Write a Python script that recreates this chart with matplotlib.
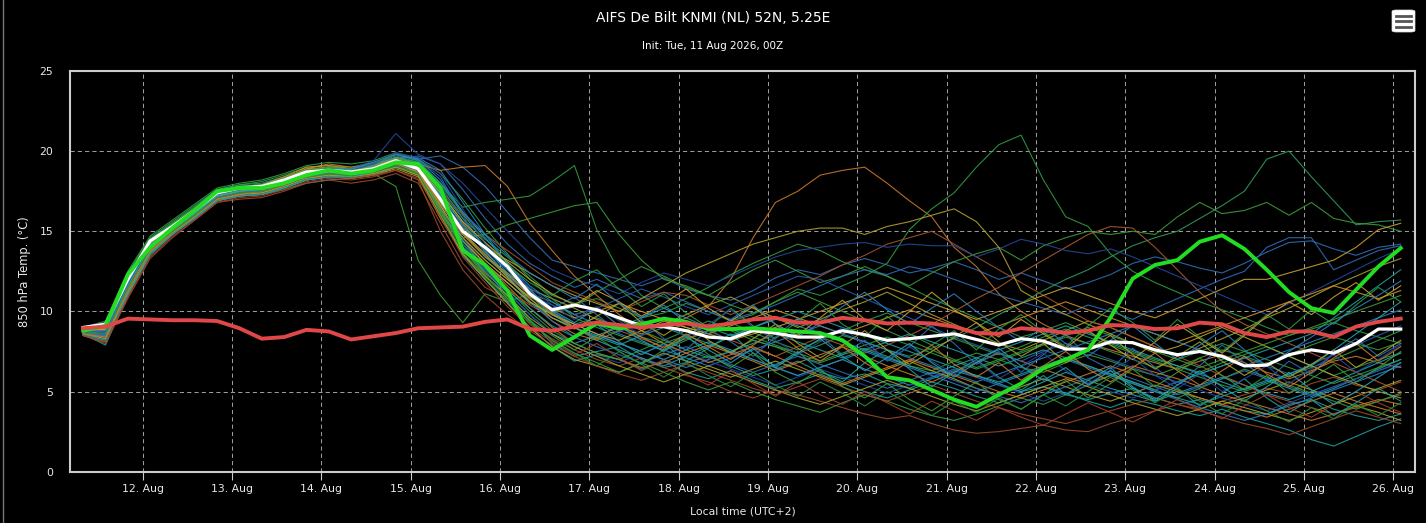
# AIFS ensemble plume, 850 hPa temperature, De Bilt

import matplotlib
matplotlib.use("Agg")
import matplotlib.pyplot as plt
import matplotlib.dates as mdates
from matplotlib.patches import FancyBboxPatch
from matplotlib.lines import Line2D
import pandas as pd

# 6-hourly steps, local time (UTC+2)
times = pd.date_range("2026-08-11 08:00", periods=60, freq="6h")

# ensemble mean (white)
mean_temp = [9.0, 9.2, 12.0, 14.4, 15.3, 16.3, 17.4, 17.7, 17.8, 18.2, 18.7, 18.8, 18.7, 18.9, 19.4, 18.9, 17.0, 15.0, 14.0, 12.8,
             11.1, 10.1, 10.4, 10.1, 9.6, 9.1, 9.05, 8.8, 8.4, 8.3, 8.8, 8.65, 8.4, 8.4, 8.8, 8.55, 8.2, 8.3, 8.45, 8.6,
             8.25, 7.9, 8.3, 8.15, 7.65, 7.65, 8.1, 8.05, 7.6, 7.3, 7.5, 7.2, 6.6, 6.65, 7.3, 7.6, 7.4, 8.0, 8.9, 8.9]

# control run (bright green)
control_temp = [8.8, 9.1, 12.3, 14.0, 15.2, 16.3, 17.5, 17.7, 17.7, 18.0, 18.5, 18.8, 18.6, 18.8, 19.3, 19.2, 17.7, 13.8, 12.9, 11.3,
                8.5, 7.6, 8.4, 9.25, 8.95, 9.2, 9.55, 9.35, 8.9, 8.9, 8.95, 8.85, 8.75, 8.65, 8.2, 7.2, 5.9, 5.7, 5.1, 4.5,
                4.05, 4.8, 5.5, 6.45, 7.0, 7.6, 9.6, 12.05, 12.9, 13.2, 14.35, 14.75, 13.9, 12.6, 11.2, 10.2, 9.9, 11.35, 12.8, 13.95]

# climate (red)
climate_temp = [8.95, 9.05, 9.55, 9.5, 9.45, 9.45, 9.4, 8.95, 8.3, 8.4, 8.85, 8.75, 8.25, 8.45, 8.65, 8.95, 9.0, 9.05, 9.35, 9.5,
                8.9, 8.8, 9.05, 9.3, 9.15, 9.0, 9.15, 9.25, 9.05, 9.25, 9.5, 9.6, 9.3, 9.3, 9.6, 9.45, 9.25, 9.3, 9.25, 9.05,
                8.65, 8.6, 8.95, 8.85, 8.65, 8.8, 9.15, 9.1, 8.9, 8.95, 9.3, 9.2, 8.65, 8.4, 8.75, 8.75, 8.4, 9.05, 9.35, 9.55]

# ensemble members
m01 = [8.7, 8.4, 11.2, 13.8, 15.0, 16.1, 17.2, 17.4, 17.5, 17.9, 18.5, 18.6, 18.4, 18.7, 19.3, 19.5, 19.7, 19.0, 17.8, 16.2,
       14.6, 13.2, 12.8, 12.4, 12.0, 11.6, 12.1, 11.4, 11.0, 10.7, 11.3, 12.1, 12.6, 12.3, 12.9, 13.3, 12.9, 12.4, 12.7, 13.1,
       12.6, 12.0, 12.4, 11.9, 11.4, 11.8, 12.3, 13.0, 13.4, 13.1, 12.7, 12.4, 13.0, 13.7, 14.3, 14.4, 13.9, 13.5, 14.0, 14.2]
m02 = [8.6, 7.9, 11.0, 13.5, 14.8, 15.9, 17.0, 17.2, 17.3, 17.6, 18.0, 18.2, 18.3, 18.5, 19.0, 18.7, 16.2, 14.0, 12.5, 11.0,
       9.5, 8.0, 7.2, 7.5, 7.8, 7.0, 6.5, 6.8, 7.2, 6.6, 6.0, 6.4, 6.9, 6.2, 5.8, 6.1, 5.5, 5.2, 5.8, 6.3,
       5.9, 5.4, 5.0, 5.3, 4.8, 4.5, 4.9, 5.2, 4.6, 4.2, 4.5, 4.1, 3.8, 3.6, 4.2, 4.5, 3.9, 3.5, 3.2, 3.6]
m03 = [9.0, 9.3, 12.4, 14.6, 15.6, 16.6, 17.6, 17.9, 18.1, 18.5, 19.0, 19.1, 19.0, 19.3, 19.8, 19.4, 18.0, 16.5, 16.8, 17.0,
       17.2, 18.1, 19.1, 15.1, 12.5, 11.0, 10.2, 10.8, 11.5, 12.3, 13.0, 13.6, 14.2, 13.8, 13.1, 12.6, 12.2, 11.5, 10.8, 10.2,
       9.6, 9.0, 8.4, 8.8, 9.3, 8.7, 8.0, 7.5, 7.0, 6.6, 6.2, 6.8, 7.3, 7.8, 7.2, 6.6, 6.0, 6.5, 7.0, 7.4]
m04 = [8.9, 9.1, 12.0, 14.2, 15.2, 16.3, 17.3, 17.6, 17.8, 18.0, 18.4, 18.5, 18.6, 18.6, 17.8, 13.2, 11.0, 9.3, 11.1, 10.6,
       11.1, 10.6, 9.8, 10.2, 9.5, 8.8, 8.2, 7.6, 7.1, 7.5, 8.2, 7.8, 7.2, 6.8, 7.3, 7.7, 7.2, 6.6, 6.3, 6.9,
       7.4, 7.0, 6.5, 6.2, 6.8, 7.3, 6.9, 6.4, 6.0, 6.5, 7.1, 7.6, 7.2, 6.7, 7.3, 7.9, 8.4, 8.0, 7.6, 8.1]
m05 = [8.8, 9.0, 11.8, 14.0, 15.1, 16.0, 17.1, 17.5, 17.9, 18.3, 18.9, 19.2, 19.0, 19.2, 19.6, 19.0, 17.2, 15.5, 13.8, 12.2,
       10.6, 9.4, 8.6, 8.2, 8.8, 9.4, 9.0, 9.6, 10.3, 12.0, 14.6, 16.8, 17.5, 18.5, 18.8, 19.0, 18.0, 16.9, 15.9, 14.0,
       12.8, 11.1, 10.0, 9.2, 8.5, 8.0, 7.6, 7.2, 6.8, 6.4, 6.9, 7.3, 6.8, 6.2, 5.8, 6.3, 6.9, 7.2, 6.8, 6.5]
m06 = [8.7, 8.9, 11.9, 14.3, 15.4, 16.4, 17.5, 17.8, 17.9, 18.3, 18.8, 19.0, 18.9, 19.1, 19.6, 19.1, 17.5, 15.8, 14.5, 13.4,
       12.2, 11.0, 10.5, 10.8, 10.2, 9.6, 9.9, 10.5, 10.0, 9.4, 9.8, 10.6, 11.4, 11.0, 11.6, 12.2, 13.0, 15.1, 16.4, 17.4,
       19.0, 20.4, 21.0, 18.2, 15.9, 15.3, 13.6, 12.5, 11.8, 11.2, 10.6, 10.1, 9.6, 9.0, 8.5, 8.9, 9.3, 8.8, 8.4, 8.0]
m07 = [8.9, 9.2, 12.2, 14.5, 15.5, 16.5, 17.6, 17.9, 18.0, 18.4, 18.8, 18.9, 18.8, 19.0, 19.5, 19.0, 16.8, 14.6, 13.2, 12.0,
       10.8, 9.8, 9.2, 9.6, 9.0, 8.4, 8.0, 8.5, 9.2, 8.8, 8.2, 7.8, 7.4, 7.9, 8.5, 8.1, 7.6, 7.2, 7.7, 8.3,
       9.0, 9.8, 10.5, 11.3, 12.0, 12.6, 13.4, 14.1, 14.6, 15.0, 15.8, 16.6, 17.5, 19.5, 20.0, 18.4, 16.9, 15.4, 15.6, 15.7]
m08 = [8.8, 8.8, 11.6, 14.1, 15.2, 16.2, 17.3, 17.6, 17.7, 18.1, 18.6, 18.7, 18.6, 18.9, 19.3, 18.8, 16.5, 14.2, 12.8, 11.8,
       10.5, 9.9, 10.3, 11.2, 12.0, 12.8, 12.2, 11.5, 11.0, 11.8, 12.6, 13.2, 12.5, 11.8, 12.2, 12.8, 12.2, 11.6, 12.4, 13.1,
       13.6, 14.0, 13.2, 14.1, 14.6, 15.0, 14.8, 15.0, 14.8, 15.9, 16.8, 16.1, 16.3, 16.8, 16.0, 16.8, 15.8, 15.5, 15.4, 15.0]
m09 = [8.6, 8.3, 11.4, 13.9, 15.0, 16.0, 17.0, 17.3, 17.4, 17.7, 18.2, 18.4, 18.5, 18.9, 19.5, 19.7, 19.2, 17.6, 15.8, 14.2,
       13.0, 12.2, 11.5, 12.0, 11.4, 10.8, 11.2, 10.6, 10.0, 9.5, 9.9, 10.4, 11.0, 11.6, 12.2, 12.6, 12.3, 12.8, 12.5, 12.0,
       11.5, 11.0, 10.6, 10.2, 9.8, 10.4, 10.0, 9.5, 10.2, 10.8, 11.4, 12.0, 12.5, 14.0, 14.6, 14.6, 12.6, 13.2, 13.8, 14.1]
m10 = [8.5, 8.0, 10.8, 13.3, 14.6, 15.7, 16.8, 17.0, 17.1, 17.5, 18.0, 18.2, 18.0, 18.2, 18.6, 18.0, 15.5, 13.0, 11.5, 10.8,
       9.2, 8.3, 7.6, 7.0, 6.6, 7.1, 6.5, 6.0, 5.6, 5.0, 4.6, 5.1, 4.8, 4.4, 4.0, 3.6, 3.3, 3.5, 3.0, 2.6,
       2.4, 2.5, 2.7, 2.9, 2.6, 2.5, 3.0, 3.4, 3.8, 4.2, 3.9, 4.4, 4.8, 5.2, 4.9, 5.5, 5.9, 5.4, 5.1, 5.6]
m11 = [8.7, 8.6, 11.7, 14.0, 15.2, 16.1, 17.2, 17.5, 17.6, 18.0, 18.5, 18.5, 18.4, 18.6, 19.0, 18.6, 16.0, 13.5, 12.0, 10.6,
       9.0, 7.8, 6.9, 7.3, 7.0, 6.4, 6.9, 6.2, 5.8, 6.3, 5.7, 5.2, 5.6, 6.1, 5.5, 5.0, 4.6, 5.1, 5.6, 5.2,
       4.7, 4.3, 4.8, 5.3, 4.9, 4.4, 4.0, 4.5, 4.2, 3.8, 3.5, 3.9, 3.4, 3.0, 2.6, 2.0, 1.6, 2.2, 2.8, 3.3]
m12 = [8.9, 9.1, 12.1, 14.4, 15.4, 16.4, 17.4, 17.6, 17.8, 18.3, 18.9, 19.0, 18.8, 19.0, 19.4, 18.8, 16.8, 14.8, 13.4, 12.4,
       11.4, 10.8, 10.2, 9.5, 9.0, 8.6, 9.2, 9.8, 10.4, 10.9, 10.2, 9.6, 9.0, 9.5, 10.1, 10.6, 11.2, 10.5, 9.8, 9.2,
       8.6, 8.0, 7.6, 8.2, 8.8, 9.4, 9.0, 8.4, 7.8, 7.2, 7.7, 8.3, 8.9, 9.6, 10.2, 10.9, 11.6, 12.2, 12.8, 13.3]
m13 = [8.8, 8.7, 11.6, 14.0, 15.0, 16.1, 17.1, 17.4, 17.6, 18.0, 18.6, 18.8, 18.7, 18.9, 19.3, 18.6, 16.2, 14.4, 13.0, 11.6,
       10.2, 9.0, 8.0, 7.4, 7.0, 6.5, 6.8, 7.4, 7.9, 7.4, 6.9, 6.3, 6.8, 7.3, 7.8, 7.2, 6.6, 6.1, 5.6, 6.2,
       6.8, 7.4, 6.9, 6.4, 5.9, 5.5, 6.0, 6.6, 6.2, 5.8, 5.3, 4.8, 4.4, 4.0, 3.6, 3.2, 3.6, 4.1, 4.5, 4.2]
m14 = [8.6, 8.4, 11.3, 13.8, 15.0, 16.0, 17.1, 17.4, 17.5, 17.9, 18.4, 18.6, 18.7, 19.2, 19.8, 19.5, 18.4, 16.0, 13.8, 12.2,
       11.0, 10.4, 9.8, 10.2, 10.8, 11.4, 10.9, 10.3, 9.8, 10.4, 11.0, 11.6, 12.2, 12.0, 11.4, 10.8, 10.2, 9.6, 9.0, 8.4,
       7.9, 7.4, 6.9, 7.5, 8.0, 7.5, 7.0, 6.5, 6.0, 5.6, 6.1, 6.6, 7.1, 6.6, 6.1, 6.7, 7.3, 7.9, 8.5, 9.1]
m15 = [8.8, 8.9, 11.9, 14.2, 15.3, 16.3, 17.4, 17.7, 17.8, 18.2, 18.7, 18.9, 18.8, 19.0, 19.4, 18.9, 16.6, 14.2, 12.4, 11.2,
       9.8, 8.6, 8.0, 8.5, 8.0, 7.5, 7.0, 7.6, 8.1, 7.6, 7.0, 6.5, 6.0, 6.5, 7.0, 6.4, 5.9, 5.4, 5.9, 6.4,
       6.0, 5.5, 5.0, 5.6, 6.2, 5.7, 5.2, 4.8, 4.4, 4.9, 5.4, 5.9, 5.4, 4.9, 4.5, 5.0, 5.6, 6.2, 6.8, 7.4]
m16 = [9.0, 9.4, 12.5, 14.7, 15.7, 16.7, 17.7, 18.0, 18.2, 18.6, 19.1, 19.3, 19.2, 19.4, 19.9, 19.5, 18.6, 17.0, 15.2, 13.6,
       12.0, 10.8, 9.6, 9.0, 8.5, 8.0, 7.6, 8.2, 8.8, 9.3, 8.7, 8.1, 7.6, 8.2, 8.8, 9.4, 9.9, 9.3, 8.8, 8.3,
       7.8, 7.3, 7.8, 8.4, 8.9, 8.4, 7.9, 7.4, 6.9, 6.4, 5.9, 5.4, 5.0, 5.5, 6.0, 6.5, 7.0, 7.6, 8.2, 8.8]
m17 = [8.5, 8.1, 11.0, 13.6, 14.9, 15.9, 16.9, 17.2, 17.3, 17.7, 18.2, 18.4, 18.3, 18.5, 18.9, 18.4, 15.8, 13.6, 12.0, 10.5,
       9.0, 7.8, 7.0, 6.6, 6.2, 6.8, 7.4, 6.9, 6.4, 5.9, 6.4, 6.9, 6.4, 5.9, 5.4, 5.9, 6.4, 6.9, 6.3, 5.8,
       5.2, 4.8, 5.3, 5.8, 5.3, 4.8, 4.4, 4.9, 5.4, 5.0, 4.6, 4.2, 4.6, 5.1, 5.6, 5.1, 4.6, 4.1, 3.7, 3.2]
m18 = [8.7, 8.8, 11.8, 14.1, 15.2, 16.2, 17.3, 17.6, 17.8, 18.2, 18.8, 19.0, 18.9, 19.0, 19.4, 19.0, 17.6, 16.0, 14.8, 13.8,
       12.8, 11.8, 11.2, 10.6, 10.0, 10.6, 11.2, 11.0, 10.4, 9.8, 10.4, 11.0, 11.6, 12.2, 12.9, 13.5, 14.2, 14.6, 15.0, 14.2,
       13.4, 12.6, 11.8, 11.0, 10.2, 9.4, 9.0, 8.4, 7.8, 7.2, 6.6, 6.0, 5.4, 4.8, 4.4, 4.0, 3.6, 4.0, 4.4, 4.8]
m19 = [8.6, 8.5, 11.4, 13.9, 15.0, 16.0, 17.0, 17.3, 17.4, 17.8, 18.3, 18.5, 18.4, 18.6, 19.1, 18.5, 16.0, 13.8, 12.4, 11.4,
       10.4, 9.6, 9.0, 9.4, 8.8, 8.3, 7.8, 8.3, 8.8, 8.2, 7.7, 7.2, 7.8, 8.4, 7.9, 7.4, 7.9, 8.5, 9.2, 10.0,
       10.8, 11.5, 12.4, 13.2, 14.0, 14.8, 15.3, 15.2, 14.0, 12.6, 11.2, 10.0, 9.2, 8.6, 8.0, 7.4, 6.8, 6.2, 5.6, 5.0]
m20 = [8.7, 8.6, 11.5, 13.9, 15.1, 16.1, 17.2, 17.5, 17.6, 18.0, 18.6, 18.8, 18.9, 19.4, 21.1, 19.8, 19.2, 18.0, 16.5, 15.0,
       13.6, 12.6, 12.0, 11.6, 11.1, 11.8, 12.4, 12.0, 11.6, 12.2, 12.8, 13.4, 13.8, 14.0, 14.2, 14.3, 14.0, 14.2, 14.1, 14.1,
       13.4, 13.9, 14.5, 14.2, 13.8, 13.6, 13.9, 13.4, 12.8, 12.2, 11.6, 11.0, 10.4, 9.8, 10.5, 11.2, 11.9, 12.6, 13.3, 13.9]
m21 = [8.8, 8.9, 11.8, 14.1, 15.2, 16.2, 17.2, 17.5, 17.7, 18.1, 18.6, 18.7, 18.6, 18.8, 19.2, 18.7, 16.3, 13.9, 12.2, 10.9,
       9.4, 8.2, 7.4, 6.8, 6.2, 6.8, 6.2, 5.6, 5.1, 5.6, 5.0, 4.5, 4.1, 3.7, 4.3, 4.8, 4.4, 3.9, 3.5, 3.2,
       3.6, 4.1, 4.6, 4.2, 4.8, 5.4, 6.0, 5.5, 5.0, 4.6, 5.2, 5.8, 6.4, 5.9, 5.4, 4.9, 4.4, 3.9, 4.4, 4.9]
m22 = [8.9, 9.2, 12.2, 14.4, 15.4, 16.4, 17.5, 17.8, 17.9, 18.3, 18.8, 18.9, 18.8, 19.0, 19.5, 19.1, 17.2, 15.0, 13.4, 12.2,
       10.6, 9.6, 9.0, 8.4, 7.9, 8.5, 9.0, 8.5, 8.0, 7.5, 8.0, 8.6, 8.1, 7.6, 7.1, 7.6, 8.1, 8.6, 8.1, 7.6,
       7.1, 6.6, 7.1, 7.6, 7.1, 6.6, 6.1, 5.6, 5.1, 4.6, 4.2, 4.7, 5.2, 5.7, 5.2, 4.7, 5.2, 5.8, 6.4, 7.0]
m23 = [8.6, 8.3, 11.2, 13.7, 14.9, 15.9, 17.0, 17.3, 17.4, 17.8, 18.3, 18.5, 18.5, 18.8, 19.3, 18.9, 17.0, 14.6, 12.9, 11.8,
       10.6, 9.4, 8.4, 7.8, 7.3, 6.8, 7.3, 7.8, 7.2, 6.7, 6.2, 6.7, 7.2, 6.7, 6.2, 5.7, 5.2, 5.7, 6.2, 5.7,
       5.2, 4.7, 4.3, 4.8, 5.3, 5.8, 6.3, 5.8, 5.3, 4.8, 5.3, 5.8, 6.3, 5.8, 5.3, 4.8, 5.3, 5.8, 6.3, 6.8]
m24 = [8.8, 9.0, 12.0, 14.3, 15.3, 16.2, 17.3, 17.6, 17.9, 18.4, 19.0, 19.1, 18.9, 19.0, 19.3, 18.7, 16.4, 14.6, 13.2, 12.0,
       10.9, 10.2, 9.6, 10.0, 10.5, 10.0, 9.5, 9.0, 8.6, 9.1, 9.6, 10.1, 9.6, 9.1, 8.6, 9.1, 9.6, 10.1, 9.6, 9.1,
       8.6, 9.1, 9.6, 10.1, 10.6, 10.1, 9.6, 9.1, 8.6, 8.1, 8.6, 9.1, 9.6, 10.1, 10.6, 11.1, 11.6, 11.2, 10.8, 11.3]
m25 = [8.7, 8.7, 11.6, 14.0, 15.1, 16.1, 17.2, 17.5, 17.6, 18.0, 18.5, 18.6, 18.5, 18.7, 19.1, 18.6, 16.2, 14.0, 12.6, 11.4,
       10.0, 8.8, 8.0, 7.4, 7.0, 7.6, 8.2, 8.8, 9.4, 8.9, 8.4, 7.9, 7.4, 6.9, 7.4, 7.9, 8.4, 7.9, 7.4, 6.9,
       6.4, 6.9, 7.4, 7.9, 8.4, 8.0, 7.5, 7.0, 6.5, 7.0, 7.5, 8.0, 7.5, 7.0, 6.5, 6.0, 5.5, 6.0, 6.5, 7.0]
m26 = [8.5, 8.2, 11.1, 13.6, 14.8, 15.8, 16.9, 17.2, 17.3, 17.7, 18.2, 18.4, 18.6, 19.0, 19.6, 19.6, 18.8, 16.8, 14.8, 13.0,
       11.6, 10.6, 9.8, 9.2, 8.6, 8.1, 7.6, 7.1, 6.6, 7.1, 7.6, 8.1, 8.6, 9.1, 8.6, 8.1, 7.6, 7.1, 6.6, 6.1,
       5.6, 6.1, 6.6, 7.1, 7.6, 8.1, 8.6, 9.1, 8.6, 8.1, 7.6, 7.1, 6.6, 7.1, 7.6, 8.1, 8.6, 9.1, 9.6, 10.1]
m27 = [8.9, 9.1, 12.1, 14.4, 15.4, 16.4, 17.5, 17.8, 17.9, 18.3, 18.8, 19.0, 18.9, 19.1, 19.5, 19.0, 17.0, 15.2, 14.0, 13.2,
       12.4, 11.6, 11.0, 10.5, 10.0, 10.8, 11.6, 12.4, 13.0, 13.6, 14.2, 14.6, 15.0, 15.2, 15.2, 14.8, 15.3, 15.6, 16.0, 16.4,
       15.6, 14.0, 11.3, 10.5, 9.8, 9.2, 8.6, 8.0, 7.4, 7.8, 8.4, 9.0, 8.4, 7.8, 7.2, 6.6, 6.0, 5.5, 5.0, 4.6]
m28 = [8.7, 8.5, 11.5, 13.9, 15.0, 16.0, 17.1, 17.4, 17.5, 17.9, 18.4, 18.6, 18.6, 18.9, 19.3, 18.9, 17.4, 15.6, 14.0, 12.4,
       11.0, 9.8, 9.0, 8.5, 9.0, 9.6, 10.2, 9.6, 9.0, 8.5, 9.0, 9.5, 10.0, 9.5, 9.0, 8.5, 8.0, 7.5, 7.0, 6.5,
       6.0, 5.6, 6.1, 6.6, 7.1, 6.6, 6.1, 5.6, 5.1, 5.6, 6.1, 6.6, 7.1, 7.6, 8.1, 8.6, 9.6, 10.6, 11.6, 12.6]
m29 = [8.6, 8.4, 11.3, 13.8, 14.9, 15.9, 17.0, 17.3, 17.4, 17.8, 18.3, 18.4, 18.3, 18.5, 18.8, 18.2, 15.0, 12.6, 11.0, 9.8,
       8.8, 7.9, 7.2, 6.6, 6.1, 5.7, 6.2, 6.7, 6.2, 5.7, 5.2, 4.8, 5.3, 5.8, 5.3, 4.8, 4.4, 4.9, 5.4, 4.9,
       4.4, 4.0, 3.6, 3.3, 3.0, 3.4, 3.8, 4.2, 4.6, 4.2, 3.8, 3.4, 3.0, 2.7, 2.3, 2.8, 3.3, 3.8, 3.4, 3.0]
m30 = [8.8, 8.8, 11.8, 14.1, 15.2, 16.2, 17.3, 17.6, 17.7, 18.1, 18.6, 18.8, 18.7, 18.9, 19.4, 18.9, 16.6, 14.2, 12.6, 11.2,
       9.8, 8.6, 7.8, 7.2, 6.8, 7.4, 7.9, 7.4, 6.9, 6.4, 5.9, 5.4, 5.9, 6.4, 5.9, 5.4, 4.9, 5.4, 5.9, 6.4,
       5.9, 5.4, 4.9, 4.4, 4.9, 5.4, 5.0, 4.6, 5.1, 5.6, 5.1, 4.6, 4.2, 3.8, 4.3, 4.8, 5.3, 5.8, 6.3, 6.8]
m31 = [8.9, 9.0, 11.9, 14.2, 15.3, 16.3, 17.3, 17.6, 17.7, 18.1, 18.6, 18.7, 18.6, 18.8, 19.1, 18.5, 16.0, 14.6, 14.8, 15.4,
       15.8, 16.2, 16.6, 16.8, 14.8, 13.2, 12.0, 11.6, 11.0, 10.4, 9.9, 10.6, 11.2, 10.6, 10.0, 9.4, 8.8, 8.2, 7.6, 7.0,
       6.5, 7.0, 7.5, 8.0, 8.5, 9.0, 8.5, 8.0, 7.5, 7.0, 6.5, 7.0, 7.5, 8.0, 8.5, 9.0, 9.5, 10.0, 10.5, 11.0]
m32 = [8.8, 8.9, 11.9, 14.2, 15.2, 16.2, 17.3, 17.6, 17.8, 18.2, 18.7, 18.9, 18.8, 19.1, 19.6, 19.2, 18.8, 19.0, 19.1, 17.8,
       15.5, 13.8, 12.2, 11.0, 9.8, 8.8, 8.0, 7.4, 6.8, 7.3, 7.8, 7.2, 6.6, 6.0, 5.5, 6.0, 6.5, 7.0, 6.5, 6.0,
       5.5, 5.0, 4.6, 5.1, 5.6, 6.1, 6.6, 6.1, 5.6, 5.1, 4.6, 4.2, 3.8, 3.4, 3.9, 4.4, 4.9, 4.4, 4.0, 3.6]
m33 = [8.7, 8.7, 11.7, 14.1, 15.2, 16.2, 17.3, 17.6, 17.7, 18.1, 18.6, 18.8, 18.8, 19.1, 19.6, 19.3, 18.0, 16.2, 14.6, 13.0,
       11.4, 10.0, 9.0, 8.2, 7.6, 7.1, 6.6, 7.2, 7.8, 8.4, 9.0, 9.6, 9.1, 8.6, 8.1, 7.6, 7.1, 6.6, 6.1, 6.6,
       7.1, 7.6, 8.1, 8.6, 9.1, 8.6, 8.1, 7.6, 7.1, 6.6, 6.1, 5.6, 5.1, 5.6, 6.1, 6.6, 7.6, 8.6, 9.6, 10.6]
m34 = [8.6, 8.3, 11.2, 13.7, 14.9, 15.9, 17.0, 17.3, 17.4, 17.8, 18.3, 18.5, 18.4, 18.6, 19.0, 18.5, 16.0, 13.6, 12.2, 11.0,
       9.6, 8.6, 7.8, 7.2, 6.6, 6.1, 5.6, 6.1, 6.6, 6.1, 5.6, 5.1, 4.6, 4.2, 4.7, 5.2, 5.7, 5.2, 4.7, 4.2,
       3.8, 4.3, 4.8, 5.3, 5.8, 5.3, 4.8, 4.3, 3.9, 3.5, 3.9, 4.4, 4.0, 3.6, 3.2, 3.7, 4.2, 4.7, 5.2, 5.7]
m35 = [8.9, 9.0, 12.0, 14.3, 15.3, 16.3, 17.4, 17.7, 17.8, 18.2, 18.7, 18.9, 18.9, 19.2, 19.8, 19.4, 17.8, 15.8, 14.0, 12.6,
       11.2, 10.0, 9.2, 8.6, 8.0, 7.5, 7.0, 6.5, 7.0, 7.5, 7.0, 6.5, 6.0, 6.5, 7.0, 7.5, 7.0, 6.5, 6.0, 5.5,
       5.0, 5.5, 6.0, 6.5, 7.0, 6.5, 6.0, 5.5, 5.0, 4.5, 4.0, 3.6, 3.2, 3.6, 4.1, 4.6, 5.1, 5.6, 6.1, 6.6]
m36 = [8.8, 8.9, 11.9, 14.2, 15.2, 16.2, 17.2, 17.5, 17.6, 18.0, 18.6, 18.8, 18.7, 18.9, 19.3, 18.8, 16.6, 14.4, 13.0, 11.8,
       10.6, 9.8, 9.2, 8.6, 8.2, 8.8, 9.4, 9.0, 8.6, 8.2, 8.6, 9.0, 9.5, 10.0, 10.5, 11.0, 11.5, 11.0, 10.5, 10.0,
       9.5, 10.0, 10.5, 11.0, 11.5, 11.0, 10.5, 10.0, 9.6, 10.2, 10.8, 11.4, 12.0, 12.0, 12.4, 12.8, 13.2, 14.0, 15.1, 15.5]
m37 = [8.7, 8.5, 11.6, 14.0, 15.1, 16.1, 17.1, 17.4, 17.6, 18.0, 18.5, 18.7, 18.6, 18.8, 19.2, 18.8, 17.1, 15.3, 13.9, 12.6,
       11.3, 10.2, 10.9, 9.8, 8.7, 9.5, 8.3, 7.6, 8.9, 8.1, 7.2, 8.4, 9.6, 8.5, 7.3, 8.2, 6.9, 7.8, 9.1, 8.0,
       6.7, 7.5, 6.2, 7.3, 8.6, 7.1, 6.4, 7.7, 6.5, 5.4, 6.6, 7.9, 6.8, 5.7, 6.9, 6.1, 7.4, 8.3, 7.2, 8.0]
m38 = [8.9, 9.2, 12.3, 14.5, 15.5, 16.5, 17.5, 17.8, 17.9, 18.3, 18.8, 19.0, 18.9, 19.2, 19.7, 19.3, 17.9, 16.1, 14.3, 12.9,
       11.8, 11.0, 11.9, 12.6, 11.4, 10.3, 11.1, 9.9, 9.0, 10.2, 9.1, 8.3, 9.4, 10.5, 9.2, 8.4, 9.7, 8.6, 7.9, 8.8,
       7.6, 8.9, 9.8, 8.7, 7.8, 9.1, 10.2, 9.3, 8.2, 9.5, 8.4, 7.5, 8.6, 9.8, 8.9, 10.1, 9.2, 10.4, 11.5, 10.6]
m39 = [8.6, 8.2, 11.1, 13.6, 14.8, 15.8, 16.9, 17.2, 17.3, 17.7, 18.2, 18.4, 18.4, 18.7, 19.2, 18.8, 16.9, 14.4, 12.7, 11.3,
       10.2, 9.1, 8.4, 9.2, 8.1, 7.3, 8.0, 6.9, 7.7, 8.6, 7.4, 6.6, 7.5, 6.3, 5.6, 6.8, 7.6, 6.4, 5.3, 6.2,
       7.0, 5.9, 5.1, 6.0, 4.8, 5.7, 6.5, 5.3, 4.4, 5.2, 4.1, 4.9, 5.8, 4.6, 3.7, 4.5, 3.5, 4.3, 5.2, 4.4]
m40 = [8.8, 8.9, 11.9, 14.2, 15.3, 16.3, 17.3, 17.6, 17.8, 18.2, 18.7, 18.9, 18.8, 19.0, 19.5, 19.0, 17.4, 15.6, 14.3, 13.1,
       12.0, 11.1, 10.4, 11.3, 10.6, 9.7, 10.5, 11.4, 10.2, 9.4, 10.3, 9.2, 8.5, 9.6, 10.7, 9.5, 8.8, 10.0, 11.2, 10.1,
       9.3, 8.4, 9.5, 8.6, 7.7, 8.8, 7.9, 7.0, 8.1, 9.2, 8.3, 7.4, 8.5, 9.7, 10.6, 9.8, 10.9, 11.8, 10.7, 11.6]
m41 = [8.5, 8.1, 10.9, 13.4, 14.7, 15.7, 16.8, 17.1, 17.2, 17.6, 18.1, 18.3, 18.2, 18.4, 18.8, 18.3, 15.9, 13.4, 11.8, 10.3,
       9.0, 8.1, 7.3, 8.0, 7.1, 6.3, 7.0, 6.1, 5.4, 6.3, 5.5, 4.7, 5.6, 4.8, 4.2, 5.0, 4.3, 3.6, 4.4, 3.8,
       3.2, 4.0, 3.4, 2.9, 3.6, 4.3, 3.7, 3.1, 3.8, 4.5, 3.9, 3.3, 4.1, 4.8, 4.0, 3.4, 4.2, 5.0, 4.3, 3.7]
m42 = [8.8, 9.0, 12.0, 14.3, 15.3, 16.2, 17.3, 17.6, 17.7, 18.1, 18.7, 18.8, 18.7, 18.9, 19.4, 18.9, 16.9, 14.9, 13.6, 12.1,
       10.8, 9.6, 8.9, 9.7, 10.5, 9.3, 8.5, 9.4, 8.2, 7.4, 8.3, 9.2, 8.0, 7.1, 7.9, 8.8, 7.6, 6.7, 7.5, 8.4,
       9.3, 8.1, 7.2, 8.0, 6.8, 7.6, 8.5, 7.3, 6.4, 7.2, 8.1, 6.9, 6.0, 6.8, 5.9, 6.7, 7.6, 6.5, 7.3, 8.2]
m43 = [8.7, 8.7, 11.7, 14.1, 15.2, 16.2, 17.3, 17.6, 17.7, 18.1, 18.6, 18.8, 18.8, 19.2, 19.9, 19.6, 18.6, 16.4, 14.2, 12.7,
       11.5, 10.4, 9.5, 10.3, 9.4, 8.5, 9.3, 8.4, 9.2, 10.1, 9.0, 8.2, 7.3, 8.1, 9.0, 7.9, 7.0, 7.8, 6.9, 6.1,
       6.9, 5.8, 6.6, 7.4, 6.3, 5.5, 6.3, 7.1, 6.0, 5.2, 6.1, 5.0, 5.8, 6.6, 5.5, 6.4, 7.3, 6.2, 7.0, 7.9]
m44 = [8.9, 9.1, 12.1, 14.4, 15.4, 16.4, 17.4, 17.7, 17.8, 18.2, 18.8, 18.9, 18.8, 19.0, 19.4, 18.9, 16.4, 14.0, 12.3, 10.8,
       9.4, 8.5, 7.6, 8.4, 7.5, 6.7, 7.6, 8.5, 7.3, 6.5, 7.4, 6.2, 5.5, 6.4, 5.3, 4.6, 5.5, 4.5, 3.8, 4.7,
       5.6, 4.5, 3.9, 4.8, 5.7, 4.6, 5.5, 6.4, 5.3, 6.2, 7.1, 6.0, 5.1, 6.0, 4.9, 5.8, 6.7, 5.6, 6.5, 7.5]
m45 = [8.7, 8.6, 11.6, 14.0, 15.1, 16.1, 17.2, 17.5, 17.6, 18.0, 18.5, 18.7, 18.6, 18.9, 19.3, 18.9, 17.3, 15.4, 13.7, 12.3,
       11.2, 10.1, 9.3, 10.2, 9.1, 8.2, 7.5, 8.4, 7.6, 6.8, 7.7, 6.5, 7.4, 8.3, 7.2, 6.3, 7.1, 8.0, 6.8, 5.9,
       6.8, 7.7, 6.6, 5.7, 6.5, 5.4, 6.3, 5.2, 4.5, 5.4, 6.3, 5.3, 4.4, 5.3, 6.2, 5.1, 4.2, 5.0, 5.9, 6.8]
m46 = [8.6, 8.4, 11.4, 13.8, 15.0, 16.0, 17.0, 17.3, 17.5, 17.9, 18.5, 18.7, 18.6, 18.8, 19.2, 18.7, 16.7, 14.8, 13.5, 12.3,
       11.0, 9.9, 9.0, 8.3, 9.2, 8.4, 7.7, 8.6, 7.8, 7.0, 7.9, 8.8, 7.7, 6.9, 7.8, 6.8, 6.0, 6.9, 7.9, 6.7,
       5.9, 6.8, 5.7, 6.6, 7.5, 6.4, 5.6, 6.5, 7.4, 6.3, 5.4, 6.3, 7.2, 6.1, 5.3, 6.2, 7.1, 8.0, 6.9, 7.8]
m47 = [8.8, 8.8, 11.8, 14.2, 15.2, 16.2, 17.3, 17.6, 17.7, 18.1, 18.7, 18.9, 18.9, 19.3, 19.8, 19.5, 18.2, 16.2, 14.8, 13.5,
       12.4, 11.6, 10.8, 11.7, 10.5, 9.6, 10.4, 9.3, 8.6, 9.5, 10.4, 9.2, 8.4, 9.3, 10.3, 11.2, 10.1, 9.2, 10.2, 11.1,
       10.0, 9.0, 8.1, 9.0, 8.0, 7.2, 8.2, 9.1, 8.0, 7.0, 7.9, 8.8, 7.6, 6.6, 7.5, 8.4, 9.3, 10.2, 11.0, 11.9]
m48 = [8.7, 8.6, 11.5, 13.9, 15.0, 16.0, 17.1, 17.4, 17.5, 17.9, 18.4, 18.6, 18.5, 18.7, 19.1, 18.6, 16.1, 13.7, 12.1, 10.7,
       9.3, 8.2, 7.4, 6.6, 7.5, 6.7, 5.9, 6.8, 6.0, 5.3, 6.2, 5.4, 4.7, 5.6, 4.9, 4.1, 5.0, 4.2, 3.5, 4.4,
       3.7, 4.6, 3.9, 4.8, 4.1, 5.0, 5.9, 5.1, 4.3, 5.2, 4.4, 3.6, 4.5, 3.8, 3.1, 4.0, 3.3, 4.2, 3.5, 4.3]

members = [m01, m02, m03, m04, m05, m06, m07, m08, m09, m10, m11, m12,
           m13, m14, m15, m16, m17, m18, m19, m20, m21, m22, m23, m24,
           m25, m26, m27, m28, m29, m30, m31, m32, m33, m34, m35, m36,
           m37, m38, m39, m40, m41, m42, m43, m44, m45, m46, m47, m48]
member_colors = ['#2f6db5', '#1f9e9a', '#2f9a44', '#3a9a30', '#c8782a', '#2f9a44',
                 '#2f9a5a', '#3f9a3a', '#2f6db5', '#9a4a2a', '#1f9e9a', '#a8a02a',
                 '#c8782a', '#2a5aa8', '#24a0b0', '#2f9a44', '#a8a02a', '#a0522d',
                 '#a85a30', '#24479a', '#3a9a3a', '#1f9e9a', '#2f6db5', '#d0902a',
                 '#2f9a44', '#2a80c0', '#b0a030', '#1f9e9a', '#9a4a2a', '#24479a',
                 '#3a9a3a', '#c8782a', '#24a0b0', '#a8a02a', '#2a80c0', '#c8a030',
                 '#2f6db5', '#2f9a44', '#1f9e9a', '#c8a030', '#a0402a', '#a8a02a',
                 '#24479a', '#3a9a3a', '#24a0b0', '#c8782a', '#2a80c0', '#2a8a3a']

plt.rcParams['font.family'] = ['DejaVu Sans']

fig = plt.figure(figsize=(14.26, 5.23), dpi=100, facecolor='black')
ax = fig.add_axes([70/1426, 1 - 471.7/523, 1345/1426, 400.7/523])
ax.set_facecolor('black')

for vals, col in zip(members, member_colors):
    ax.plot(times, vals, color=col, lw=0.8, alpha=0.9)

ax.plot(times, mean_temp, color='white', lw=2.3, zorder=5)
ax.plot(times, control_temp, color='#22dd22', lw=2.8, zorder=6)
ax.plot(times, climate_temp, color='#e04848', lw=2.8, zorder=7)

ax.set_ylim(0, 25)
ax.set_xlim(pd.Timestamp("2026-08-11 04:28"), pd.Timestamp("2026-08-26 05:50"))
ax.set_yticks([0, 5, 10, 15, 20, 25])
ax.xaxis.set_major_locator(mdates.DayLocator())
ax.xaxis.set_major_formatter(mdates.DateFormatter('%d. %b'))

ax.grid(True, color='#9a9a9a', lw=0.75, ls=(0, (4, 3)))
ax.set_axisbelow(True)
for s in ax.spines.values():
    s.set_color('#cccccc')
    s.set_linewidth(1.5)

ax.tick_params(axis='x', colors='#e8e8e8', labelsize=7.8, length=6, width=0.8,
               direction='out', color='#cccccc', pad=3)
ax.tick_params(axis='y', colors='#e8e8e8', labelsize=7.8, length=0, pad=12)

ax.set_ylabel('850 hPa Temp. (°C)', color='#e8e8e8', fontsize=8.3)
ax.yaxis.set_label_coords(-0.029, 0.5)
ax.set_xlabel('Local time (UTC+2)', color='#e8e8e8', fontsize=7.8)
ax.xaxis.set_label_coords(0.5, -0.088)

fig.text(0.5, 1 - 18/523, 'AIFS De Bilt KNMI (NL) 52N, 5.25E', color='white',
         fontsize=10, ha='center', va='center')
fig.text(0.5, 1 - 46/523, 'Init: Tue, 11 Aug 2026, 00Z', color='white',
         fontsize=7.5, ha='center', va='center')

# menu button top right
fig.patches.append(FancyBboxPatch((1392/1426, 1 - 32/523), 23/1426, 22/523,
                                  boxstyle='round,pad=0,rounding_size=0.003',
                                  transform=fig.transFigure, facecolor='white',
                                  edgecolor='#dddddd', lw=0.5))
for yy in (15.7, 21.0, 26.5):
    fig.lines.append(Line2D([1396/1426, 1411/1426], [1 - yy/523, 1 - yy/523],
                            transform=fig.transFigure, color='#555555', lw=2))

# thin frame line at left edge
fig.lines.append(Line2D([3/1426, 3/1426], [0, 1], transform=fig.transFigure,
                        color='#777777', lw=1))

fig.savefig('out.png', dpi=100, facecolor='black')
